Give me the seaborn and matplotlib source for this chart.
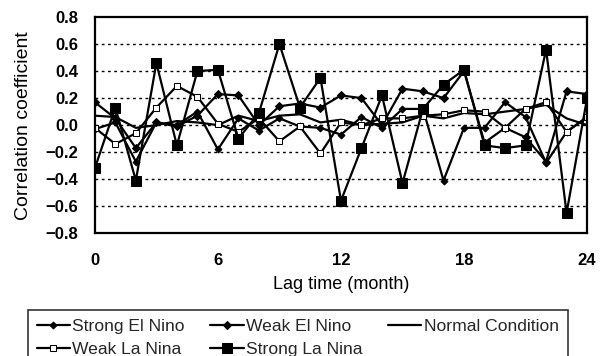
import numpy as np
import pandas as pd
import matplotlib
matplotlib.use("Agg")
import matplotlib.pyplot as plt
import seaborn as sns

# Lag (months) and correlation coefficients for each ENSO condition
lag_months = list(range(25))
strong_el_nino = [-0.03, 0.02, -0.27, 0.02, 0.00, 0.10, -0.18, 0.05, -0.04, 0.05, -0.01,
                  -0.02, -0.07, 0.06, -0.02, 0.12, 0.12, -0.41, -0.02, -0.02, 0.17, 0.06,
                  -0.28, -0.05, 0.06]
weak_el_nino = [0.17, 0.05, -0.17, 0.02, -0.01, 0.07, 0.23, 0.22, 0.00, 0.14, 0.16, 0.13,
                0.22, 0.20, 0.00, 0.27, 0.25, 0.20, 0.40, -0.13, -0.02, -0.09, -0.27, 0.25,
                0.23]
normal_condition = [0.07, 0.06, -0.02, 0.00, 0.03, 0.02, 0.00, 0.07, 0.03, 0.07, 0.08, 0.02,
                    0.04, 0.00, 0.01, 0.02, 0.07, 0.05, 0.09, 0.08, 0.10, 0.12, 0.15, 0.05,
                    0.00]
weak_la_nina = [-0.02, -0.14, -0.06, 0.13, 0.29, 0.21, 0.01, -0.05, 0.05, -0.12, -0.01,
                -0.21, 0.02, 0.00, 0.05, 0.05, 0.07, 0.08, 0.11, 0.10, -0.02, 0.12, 0.17,
                -0.05, 0.06]
strong_la_nina = [-0.32, 0.13, -0.41, 0.46, -0.15, 0.40, 0.41, -0.10, 0.09, 0.60, 0.13,
                  0.35, -0.56, -0.17, 0.22, -0.43, 0.12, 0.30, 0.41, -0.15, -0.17, -0.15,
                  0.56, -0.65, 0.20]

y_ticks = [0.8, 0.6, 0.4, 0.2, 0.0, -0.2, -0.4, -0.6, -0.8]
x_ticks = [0, 6, 12, 18, 24]

sns.set_theme(style="white")
plt.rcParams["font.family"] = ["Liberation Sans", "DejaVu Sans"]

fig = plt.figure(figsize=(6.04, 3.56), dpi=100)
ax = fig.add_axes([0.157, 0.345, 0.815, 0.607])

series = [
    ("Strong El Nino", strong_el_nino, dict(marker="D", markersize=3.5, markerfacecolor="black")),
    ("Weak El Nino", weak_el_nino, dict(marker="D", markersize=4.5, markerfacecolor="black")),
    ("Normal Condition", normal_condition, dict(marker=None)),
    ("Weak La Nina", weak_la_nina, dict(marker="s", markersize=4.5, markerfacecolor="white")),
    ("Strong La Nina", strong_la_nina, dict(marker="s", markersize=6.5, markerfacecolor="black")),
]

for name, values, style in series:
    sns.lineplot(x=lag_months, y=values, ax=ax, color="black", linewidth=1.6,
                 markeredgecolor="black", label=name, **style)

for yv in y_ticks[1:-1]:
    ax.axhline(yv, color="black", linestyle=(0, (2, 2.5)), linewidth=1.0, zorder=0)

ax.set_xlim(0, 24)
ax.set_ylim(-0.8, 0.8)
ax.set_xticks(x_ticks)
ax.set_yticks(y_ticks)
ax.set_yticklabels([f"{v:.1f}".replace("-", "\u2212") for v in y_ticks])
ax.tick_params(axis="x", direction="in", length=4, width=1.2, pad=14,
               labelsize=12, colors="black")
ax.tick_params(axis="y", length=0, pad=12, labelsize=12, colors="black")
for lbl in ax.get_xticklabels() + ax.get_yticklabels():
    lbl.set_fontweight("bold")

for sp in ax.spines.values():
    sp.set_color("black")
    sp.set_linewidth(1.6)

ax.set_xlabel("Lag time (month)", fontsize=13, color="black", labelpad=6)
ax.set_ylabel("Correlation coefficient", fontsize=14, color="black", labelpad=10)

ax.get_legend().remove()
handles, labels = ax.get_legend_handles_labels()
# reorder so that the legend fills row by row across three columns
order = [0, 3, 1, 4, 2]
leg = fig.legend([handles[i] for i in order], [labels[i] for i in order],
                 loc="upper left", bbox_to_anchor=(0.046, 0.13), ncol=3,
                 frameon=True, fancybox=False, edgecolor="black", fontsize=12.6,
                 handlelength=1.9, handletextpad=0.15, columnspacing=1.45,
                 borderpad=0.5, borderaxespad=0.0, labelspacing=0.45)
leg.get_frame().set_linewidth(1.2)

fig.savefig("out.png", dpi=100)
